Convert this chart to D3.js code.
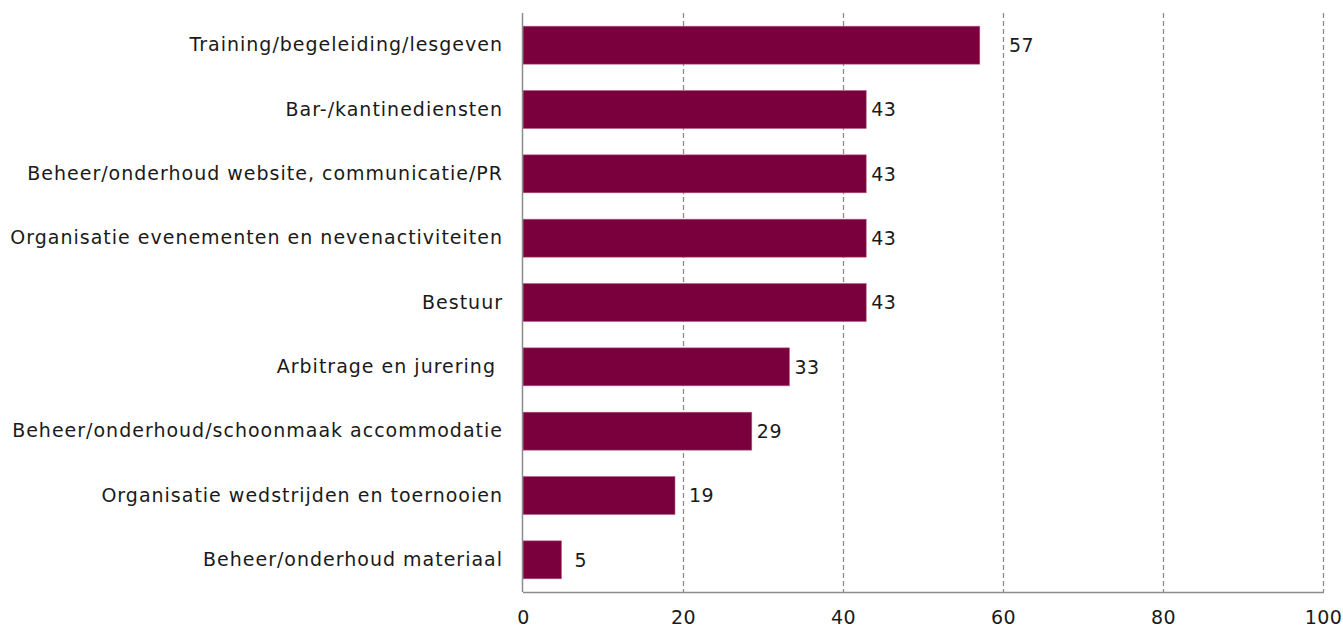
<!DOCTYPE html>
<html>
<head>
<meta charset="utf-8">
<script src="https://cdn.jsdelivr.net/npm/d3@7"></script>
<style>
  body { margin: 0; background: #fff; }
  .cat text { font-family: "DejaVu Sans", sans-serif; font-size: 19px; letter-spacing: 1px; fill: #1a1a1a; white-space: pre; }
  .xaxis text { font-family: "DejaVu Sans", sans-serif; font-size: 19px; letter-spacing: 0.5px; fill: #1a1a1a; }
  .lbl { font-family: "DejaVu Sans", sans-serif; font-size: 19px; letter-spacing: 0.5px; fill: #1a1a1a; }
</style>
</head>
<body>
<div id="chart"></div>
<script>
var categories = [
  'Training/begeleiding/lesgeven',
  'Bar-/kantinediensten',
  'Beheer/onderhoud website, communicatie/PR',
  'Organisatie evenementen en nevenactiviteiten',
  'Bestuur',
  'Arbitrage en jurering ',
  'Beheer/onderhoud/schoonmaak accommodatie',
  'Organisatie wedstrijden en toernooien',
  'Beheer/onderhoud materiaal'
];
var values = [57.1, 42.9, 42.9, 42.9, 42.9, 33.3, 28.6, 19.0, 4.8];
var ticks = [0, 20, 40, 60, 80, 100];

var width = 1343;
var height = 631;
var margin = {top: 13, right: 20, bottom: 39, left: 523};

var svg = d3.select('#chart').append('svg')
  .attr('width', width)
  .attr('height', height);

var x = d3.scaleLinear()
  .domain([0, 100])
  .range([margin.left, 1323]);

var y = d3.scaleBand()
  .domain(categories)
  .range([margin.top, height - margin.bottom])
  .paddingInner(0.41)
  .paddingOuter(0.205);

// gridlines
svg.append('g')
  .selectAll('line')
  .data(ticks.slice(1))
  .enter().append('line')
  .attr('x1', d => x(d) + 0.5).attr('x2', d => x(d) + 0.5)
  .attr('y1', margin.top).attr('y2', height - margin.bottom)
  .attr('stroke', '#8c8c8c')
  .attr('stroke-width', 1.3)
  .attr('stroke-dasharray', '5,3');

// bars
svg.append('g')
  .selectAll('rect')
  .data(values)
  .enter().append('rect')
  .attr('x', x(0))
  .attr('y', (d, i) => y(categories[i]))
  .attr('width', d => x(d) - x(0))
  .attr('height', y.bandwidth())
  .attr('fill', '#7a003d')
  .attr('stroke', '#b45a86')
  .attr('stroke-width', 0.6);

// value labels, shifted past a gridline when they would touch it
svg.append('g')
  .selectAll('text')
  .data(values)
  .enter().append('text')
  .attr('class', 'lbl')
  .attr('x', function(d) {
    var sx = x(d) + 5;
    var w = String(Math.round(d)).length * 12;
    ticks.forEach(function(t) {
      if (x(t) >= sx - 2 && x(t) <= sx + w) sx = x(t) + 6;
    });
    if (d < 10) sx += 8;
    return sx;
  })
  .attr('y', (d, i) => y(categories[i]) + y.bandwidth() / 2)
  .attr('dy', '0.36em')
  .text(d => Math.round(d));

// category axis
var yAxis = svg.append('g')
  .attr('class', 'cat')
  .attr('transform', 'translate(' + margin.left + ',0)')
  .call(d3.axisLeft(y).tickSize(0).tickPadding(20));
yAxis.select('.domain').remove();

// value axis
var xAxis = svg.append('g')
  .attr('class', 'xaxis')
  .attr('transform', 'translate(0,' + (height - margin.bottom) + ')')
  .call(d3.axisBottom(x).tickValues(ticks).tickSize(0).tickPadding(19));
xAxis.select('.domain').remove();

svg.append('line')
  .attr('x1', x(0)).attr('x2', x(100) + 1)
  .attr('y1', height - margin.bottom + 0.5).attr('y2', height - margin.bottom + 0.5)
  .attr('stroke', '#8c8c8c').attr('stroke-width', 1.5);
svg.append('line')
  .attr('x1', x(0) - 0.5).attr('x2', x(0) - 0.5)
  .attr('y1', margin.top).attr('y2', height - margin.bottom)
  .attr('stroke', '#8c8c8c').attr('stroke-width', 1.5);
</script>
</body>
</html>
